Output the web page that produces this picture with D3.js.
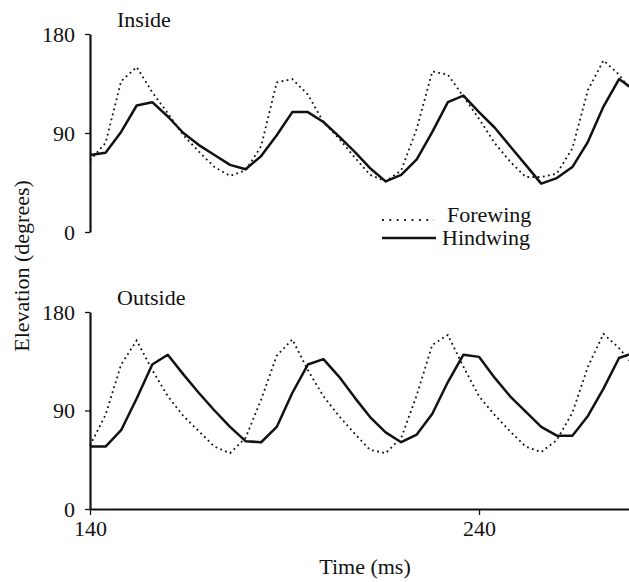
<!DOCTYPE html>
<html>
<head>
<meta charset="utf-8">
<script src="https://cdn.jsdelivr.net/npm/d3@7"></script>
<style>
  html, body { margin: 0; padding: 0; background: #fff; }
  svg { display: block; }
  text { font-family: "Liberation Serif", "Times New Roman", serif; fill: #111; }
</style>
</head>
<body>
<svg id="chart" width="629" height="582"></svg>
<script>
// time samples (ms), one frame every 4 ms
const times = [140, 144, 148, 152, 156, 160, 164, 168, 172, 176, 180, 184, 188, 192, 196, 200, 204, 208,
  212, 216, 220, 224, 228, 232, 236, 240, 244, 248, 252, 256, 260, 264, 268, 272, 276, 280];

// elevation (degrees)
const insideForewing = [65, 81, 137, 150, 127, 108, 88, 73, 59, 51, 56, 78, 136, 139, 125, 100, 85, 68,
  52, 46, 56, 94, 146, 143, 123, 103, 81, 64, 50, 50, 53, 76, 129, 156, 143, 124];
const insideHindwing = [70, 72, 91, 115, 118, 105, 90, 79, 70, 61, 57, 69, 88, 109, 109, 100, 87, 73,
  58, 46, 52, 66, 91, 118, 124, 109, 95, 78, 61, 44, 49, 59, 82, 114, 139, 129];
const outsideForewing = [58, 86, 132, 154, 127, 103, 85, 71, 57, 51, 65, 100, 140, 155, 127, 103, 85, 69,
  54, 51, 65, 104, 150, 159, 130, 103, 86, 71, 57, 52, 63, 88, 130, 160, 147, 130];
const outsideHindwing = [57, 57, 72, 101, 132, 141, 123, 106, 90, 75, 62, 61, 75, 106, 132, 137, 121, 102,
  84, 70, 61, 68, 87, 116, 141, 139, 120, 103, 89, 75, 67, 67, 85, 110, 138, 143];

const yTicks = [0, 90, 180];
const xTicks = [140, 240];

const svg = d3.select("#chart");
const fontSize = 22;

const x = d3.scaleLinear().domain([140, 280]).range([90, 634.6]);

const panels = [
  { title: "Inside", fore: insideForewing, hind: insideHindwing, top: 34, bottom: 232, xAxis: false },
  { title: "Outside", fore: outsideForewing, hind: outsideHindwing, top: 312, bottom: 509, xAxis: true }
];

const line = y =>
  d3.line()
    .x((d, i) => x(times[i]))
    .y(d => y(d));

function styleAxis(axis) {
  axis.select(".domain").attr("stroke", "#111").attr("stroke-width", 2.2);
  axis.selectAll(".tick line").attr("stroke", "#111").attr("stroke-width", 1.3);
  axis.selectAll(".tick text")
    .attr("font-size", fontSize)
    .attr("font-family", "Liberation Serif, serif")
    .attr("fill", "#111");
}

panels.forEach(p => {
  const y = d3.scaleLinear().domain([0, 180]).range([p.bottom, p.top]);
  const g = svg.append("g");

  const yAxis = g.append("g")
    .attr("transform", `translate(${x(140)}, 0)`)
    .call(d3.axisLeft(y).tickValues(yTicks).tickSize(5).tickPadding(10).tickSizeOuter(0));
  styleAxis(yAxis);

  if (p.xAxis) {
    const xAxis = g.append("g")
      .attr("transform", `translate(0, ${p.bottom})`)
      .call(d3.axisBottom(x).tickValues(xTicks).tickSize(6).tickPadding(5).tickSizeOuter(0));
    styleAxis(xAxis);
  }

  g.append("path")
    .datum(p.fore)
    .attr("fill", "none")
    .attr("stroke", "#111")
    .attr("stroke-width", 1.8)
    .attr("stroke-dasharray", "1.8,3.4")
    .attr("d", line(y));

  g.append("path")
    .datum(p.hind)
    .attr("fill", "none")
    .attr("stroke", "#111")
    .attr("stroke-width", 2.5)
    .attr("stroke-linejoin", "round")
    .attr("d", line(y));

  g.append("text")
    .attr("x", 117)
    .attr("y", p.top - 7)
    .attr("font-size", fontSize)
    .text(p.title);
});

// legend
const legend = svg.append("g");
legend.append("line")
  .attr("x1", 382).attr("x2", 434)
  .attr("y1", 220).attr("y2", 220)
  .attr("stroke", "#111")
  .attr("stroke-width", 1.8)
  .attr("stroke-dasharray", "1.8,5.6");
legend.append("text")
  .attr("x", 447).attr("y", 222)
  .attr("font-size", fontSize)
  .text("Forewing");
legend.append("line")
  .attr("x1", 382).attr("x2", 436)
  .attr("y1", 238).attr("y2", 238)
  .attr("stroke", "#111")
  .attr("stroke-width", 2.5);
legend.append("text")
  .attr("x", 442).attr("y", 245)
  .attr("font-size", fontSize)
  .text("Hindwing");

// axis titles
svg.append("text")
  .attr("x", 365)
  .attr("y", 574)
  .attr("text-anchor", "middle")
  .attr("font-size", fontSize)
  .text("Time (ms)");

svg.append("text")
  .attr("transform", "rotate(-90)")
  .attr("x", -266)
  .attr("y", 29)
  .attr("text-anchor", "middle")
  .attr("font-size", fontSize)
  .text("Elevation (degrees)");
</script>
</body>
</html>
